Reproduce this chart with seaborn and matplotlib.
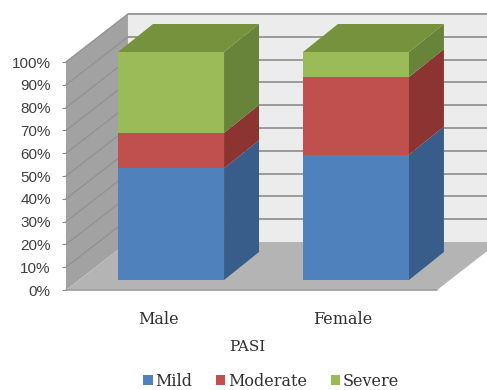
import matplotlib
matplotlib.use("Agg")
import matplotlib.pyplot as plt
from matplotlib.patches import Polygon, Patch
import seaborn as sns
import pandas as pd
import numpy as np

# Share of patients by PASI severity (%)
categories = ["Male", "Female"]
mild = [49.0, 55.0]
moderate = [15.5, 34.0]
severe = [35.5, 11.0]
series_names = ["Mild", "Moderate", "Severe"]
y_ticks = [0, 10, 20, 30, 40, 50, 60, 70, 80, 90, 100]
x_title = "PASI"

front_cols = ["#4f81bd", "#c0504d", "#9bbb59"]
side_cols = ["#385d8a", "#8c3431", "#67843a"]
top_col = "#76923c"

sns.set_theme(style="white")
plt.rcParams["font.family"] = ["DejaVu Serif"]

fig = plt.figure(figsize=(4.87, 3.90), dpi=100)
W, H = 487, 390
ax = fig.add_axes([66 / W, (H - 290) / H, (437 - 66) / W, 228 / H])

# oblique projection geometry (data units)
shift_y = 4.386          # floor front edge lies below the bar base plane
x_left, x_right = -0.568, 1.438
wall_dx, wall_dy = 0.335, 21.05   # full depth of the floor
bar_dx, bar_dy = 0.189, 12.28     # depth of each bar
bar_w = 0.573

y0 = -shift_y
# back wall
bx0 = x_left + wall_dx
ax.add_patch(Polygon([(bx0, y0 + wall_dy), (2.2, y0 + wall_dy), (2.2, y0 + wall_dy + 100),
                      (bx0, y0 + wall_dy + 100)], closed=True, facecolor="#ececec",
                     edgecolor="none", zorder=0.5, clip_on=False))
for v in y_ticks[1:]:
    ax.plot([bx0, 2.2], [y0 + wall_dy + v] * 2, color="#9a9a9a", lw=1.4,
            zorder=0.6, clip_on=False, solid_capstyle="butt")
# left wall
ax.add_patch(Polygon([(x_left, y0), (x_left, y0 + 100), (bx0, y0 + wall_dy + 100),
                      (bx0, y0 + wall_dy)], closed=True, facecolor="#a2a2a2",
                     edgecolor="none", zorder=0.7, clip_on=False))
for v in y_ticks[1:]:
    ax.plot([x_left, bx0], [y0 + v, y0 + wall_dy + v], color="#929292", lw=1.0,
            zorder=0.8, clip_on=False)
# floor
ax.add_patch(Polygon([(x_left, y0), (x_right, y0), (x_right + wall_dx, y0 + wall_dy),
                      (bx0, y0 + wall_dy)], closed=True, facecolor="#b4b4b4",
                     edgecolor="none", zorder=0.9, clip_on=False))
ax.plot([x_left, x_right], [y0, y0], color="#9c9c9c", lw=1.2, zorder=0.95, clip_on=False)

# stacked front faces drawn with seaborn (cumulative totals, back to front)
cum1 = np.array(mild)
cum2 = cum1 + np.array(moderate)
cum3 = cum2 + np.array(severe)
df = pd.DataFrame({"sex": categories, "c1": cum1, "c2": cum2, "c3": cum3})
for col, c in zip(["c3", "c2", "c1"], front_cols[::-1]):
    sns.barplot(data=df, x="sex", y=col, color=c, saturation=1, width=bar_w,
                errorbar=None, ax=ax, linewidth=0, zorder=2)
for p in ax.patches:
    p.set_clip_on(False)

# 3D side and top faces
bottoms = [np.zeros(2), cum1, cum2]
tops = [cum1, cum2, cum3]
for i in range(len(categories)):
    xr = i + bar_w / 2
    for s in range(3):
        b, t = bottoms[s][i], tops[s][i]
        ax.add_patch(Polygon([(xr, b), (xr, t), (xr + bar_dx, t + bar_dy), (xr + bar_dx, b + bar_dy)],
                             closed=True, facecolor=side_cols[s], edgecolor="none",
                             zorder=3, clip_on=False))
    xl = i - bar_w / 2
    t = cum3[i]
    ax.add_patch(Polygon([(xl, t), (xr, t), (xr + bar_dx, t + bar_dy), (xl + bar_dx, t + bar_dy)],
                         closed=True, facecolor=top_col, edgecolor="none", zorder=3, clip_on=False))

ax.set_xlim(x_left, x_right)
ax.set_ylim(y0, y0 + 100)
for sp in ax.spines.values():
    sp.set_visible(False)

ax.set_yticks([v - shift_y for v in y_ticks])
ax.set_yticklabels([f"{v}%" for v in y_ticks])
ax.tick_params(axis="y", left=True, length=3, width=0.8, color="#8a8a8a", pad=8)
for lab in ax.get_yticklabels():
    lab.set_fontfamily(["Liberation Sans", "DejaVu Sans"])
    lab.set_fontsize(11)
    lab.set_color("#404040")

label_off = 13 / 185
ax.set_xticks([i - label_off for i in range(len(categories))])
ax.set_xticklabels(categories, fontsize=11.5, color="#303030")
ax.tick_params(axis="x", bottom=False, length=0, pad=15)

ax.set_xlabel(x_title, fontsize=11, color="#303030")
ax.xaxis.set_label_coords((247 - 66) / 371, -(340 - 290) / 228)
ax.set_ylabel("")

handles = [Patch(facecolor=c, edgecolor="none") for c in front_cols]
fig.legend(handles, series_names, loc="center", bbox_to_anchor=(271 / W, 1 - 381 / H),
           ncol=3, frameon=False, fontsize=11.5, handlelength=0.6, handleheight=0.6,
           handletextpad=0.15, columnspacing=1.5, labelcolor="#303030")

fig.savefig("out.png", dpi=100)
